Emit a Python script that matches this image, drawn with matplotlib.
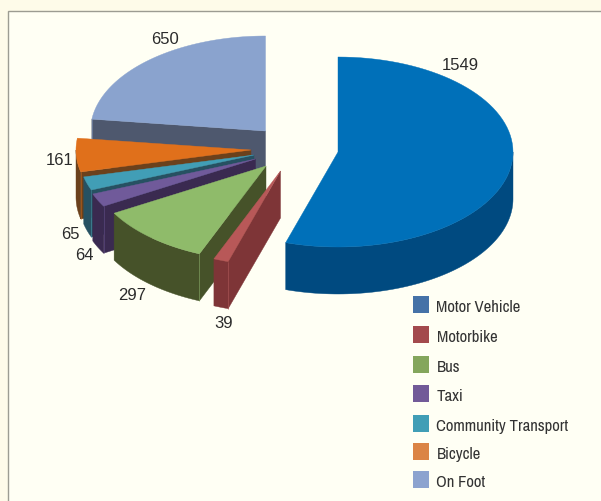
import matplotlib
matplotlib.use("Agg")
import matplotlib.pyplot as plt
import numpy as np
from matplotlib.patches import Polygon, Rectangle

# data
categories = ["Motor Vehicle", "Motorbike", "Bus", "Taxi", "Community Transport", "Bicycle", "On Foot"]
values = [1549, 39, 297, 64, 65, 161, 650]

# look
top_colours = ["#0070b9", "#b85858", "#8fbb6a", "#705a9a", "#419eb6", "#e0701b", "#8aa3ce"]
wall_colours = ["#004a80", "#7e3537", "#465229", "#3a2a50", "#275162", "#6b411c", "#4e586e"]
legend_colours = ["#4572a7", "#a34a4d", "#84a65c", "#725a98", "#419eb6", "#db8445", "#8ca3cf"]
apex_x = [338, 280.5, 266, 255.5, 254, 251, 265.5]
apex_y = [153, 172, 167, 160, 156, 151, 132]
label_x = [460, 224, 132, 84, 70, 60, 165]
label_y = [65, 324, 296, 256, 235, 161, 40]
legend_y = [307, 337, 367, 396, 426, 454, 482]

radius_x = 175
radius_y = 95
depth = 47


def rim(cx, cy, a1, a2):
    t = np.radians(np.linspace(a1, a2, 80))
    return cx + radius_x * np.sin(t), cy - radius_y * np.cos(t)


def drawSlice(ax, cx, cy, a1, a2, top, wall, z):
    # cut faces, only when they turn towards the viewer
    seams = []
    for a, visible in ((a1, np.sin(np.radians(a1)) < 0), (a2, np.sin(np.radians(a2)) > 0)):
        if visible:
            x, y = rim(cx, cy, a, a)
            ax.add_patch(Polygon([(cx, cy), (x[0], y[0]), (x[0], y[0] + depth), (cx, cy + depth)],
                                 fc=wall, ec=wall, lw=0.3, zorder=z))
            seams.append((x[0], y[0]))
    # outer wall is the part of the rim in front
    lo, hi = max(a1, 90), min(a2, 270)
    if lo < hi:
        x, y = rim(cx, cy, lo, hi)
        pts = np.r_[np.c_[x, y], np.c_[x, y + depth][::-1]]
        ax.add_patch(Polygon(pts, fc=wall, ec=wall, lw=0.3, zorder=z))
    for sx, sy in seams:
        ax.plot([sx, sx], [sy, sy + depth], color=top, lw=0.5, alpha=0.6, zorder=z)
    x, y = rim(cx, cy, a1, a2)
    ax.add_patch(Polygon(np.r_[[(cx, cy)], np.c_[x, y]], fc=top, ec=top, lw=0.3, zorder=z))


fig = plt.figure(figsize=(6.01, 5.02), dpi=100, facecolor="#fefbe9")
ax = fig.add_axes([0, 0, 1, 1])
ax.set_xlim(0, 601)
ax.set_ylim(502, 0)
ax.axis("off")

ax.add_patch(Rectangle((7.5, 11.5), 700, 700, fc="#fffff4", ec="#9c9c92", lw=1, zorder=0))

edges = np.r_[0, np.cumsum(values)] / sum(values) * 360

# back to front
for z, i in enumerate([6, 5, 4, 3, 2, 1, 0]):
    drawSlice(ax, apex_x[i], apex_y[i], edges[i], edges[i + 1], top_colours[i], wall_colours[i], z + 1)

for i, v in enumerate(values):
    ax.text(label_x[i], label_y[i], str(v), fontsize=12, family="Liberation Sans",
            color="#2b2b2b", ha="center", va="center", zorder=10)

for i, name in enumerate(categories):
    ax.add_patch(Rectangle((412.5, legend_y[i] - 10), 16.5, 17, fc=legend_colours[i], ec="none", zorder=10))
    ax.text(436.5, legend_y[i] + 1, name, fontsize=12, family=["Archivo Narrow", "Liberation Sans"],
            color="#333333", ha="left", va="center", zorder=10)

fig.savefig("out.png", dpi=100, facecolor=fig.get_facecolor())
